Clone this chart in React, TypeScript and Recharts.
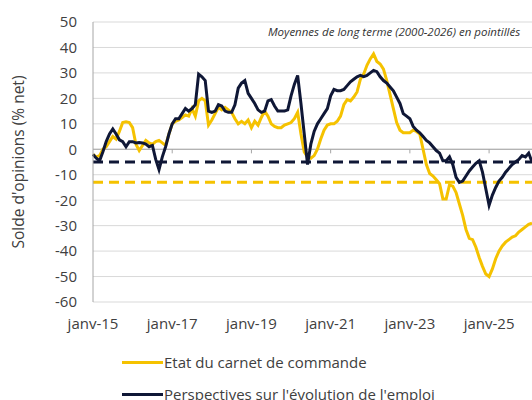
import React from 'react';
import { LineChart, Line, XAxis, YAxis, CartesianGrid, ReferenceLine } from 'recharts';

const MOIS = ['janv', 'févr', 'mars', 'avr', 'mai', 'juin', 'juil', 'août', 'sept', 'oct', 'nov', 'déc'];

// Etat du carnet de commande (janv-15 .. févr-26)
const carnet = [
  -2, -3, -2.5, 0, 1, 3, 5, 4, 7, 10.5, 10.8, 10.5, 8.5, 2, -0.5, 1.5, 3.5, 2.5, 2, 3, 3.5, 2.5, 1.5, 6,
  10, 11, 11.5, 12.5, 13.5, 13, 16, 13, 19, 20, 19, 9.5, 11.5, 14, 16.5, 15.5, 16.5, 15.5, 14.5, 12, 10, 11, 10, 11.5,
  8.5, 11, 9.5, 12.5, 15, 13, 10, 9, 8.5, 8.5, 9.5, 10, 10.5, 12, 14.5, 6, -1, -3, -3.5, -2.5, 0, 4, 7.5, 9.5,
  10, 10, 11, 13, 17.5, 19.5, 19, 20.5, 22.5, 27.5, 29.5, 33, 35.5, 37.5, 34.5, 33.5, 31.5, 27, 21.5, 16, 10.5, 7.5, 6.5, 6.5,
  6.5, 7.5, 7, 6, 0, -6, -9.5, -10.5, -12, -13.5, -19.5, -19.5, -14, -14.5, -17, -21.5, -26, -31.5, -35, -35.5, -38.5, -42.5, -46, -49,
  -50, -47, -43, -40, -38, -36.5, -35.5, -34.5, -34, -32.5, -31.5, -30.5, -29.5, -29,
];

// Perspectives sur l'évolution de l'emploi
const emploi = [
  -2, -3.5, -4.5, -1, 3, 6, 8, 6, 3.7, 3, 1, 3, 3, 2.5, 2.7, 2.5, 2, 1, 1.5, -4, -8, -3, 1, 6,
  10, 12, 12, 14, 16, 15, 16, 17.5, 29.5, 28.5, 27, 15, 14.5, 15, 17.5, 17, 15, 14.5, 14.5, 17.5, 24, 26, 27, 22,
  20, 18, 15.5, 14.5, 15, 19, 19.5, 17, 15, 15, 15, 15.5, 21, 25.5, 29, 18, 6, -6, 2, 7, 10, 12, 14, 16,
  21, 23.5, 23, 23, 23.5, 25, 26.5, 27.5, 28.5, 29, 28.5, 29, 30, 31, 30.5, 28.5, 27, 26, 24.5, 23, 20.5, 18, 14, 13,
  12, 9, 7.5, 6.5, 5, 3.5, 2.5, 1, -0.5, -1.5, -4.5, -4.5, -3, -6, -11, -13, -12.5, -10.5, -8.5, -7, -5.5, -4.5, -9, -15.5,
  -22, -18, -15, -12.5, -11, -9, -7.5, -6, -5, -4, -2.5, -3, -1.5, -5,
];

const moyenneCarnet = -13;
const moyenneEmploi = -5;

const tickLabels = ['janv-15', 'janv-17', 'janv-19', 'janv-21', 'janv-23', 'janv-25'];
const yTicks = [-60, -50, -40, -30, -20, -10, 0, 10, 20, 30, 40, 50];

const months = carnet.map((_, i) => `${MOIS[i % 12]}-${15 + Math.floor(i / 12)}`);
const data = months.map((m, i) => ({ mois: m, carnet: carnet[i], emploi: emploi[i] }));

const YELLOW = '#F5C200';
const NAVY = '#0F1736';
const TEXT = '#404040';

const legendItems = [
  { color: YELLOW, label: 'Etat du carnet de commande', top: 351 },
  { color: NAVY, label: "Perspectives sur l'évolution de l'emploi", top: 383 },
];

export default function App() {
  return (
    <div style={{ position: 'absolute', left: 0, top: 0, width: 532, height: 400, background: '#fff', fontFamily: "'Open Sans', sans-serif", overflow: 'hidden' }}>
      <LineChart width={532} height={400} data={data} margin={{ top: 22, right: 0, left: 0, bottom: 0 }}>
        <CartesianGrid vertical={false} stroke="#d9d9d9" strokeWidth={1} />
        <XAxis
          dataKey="mois"
          ticks={tickLabels}
          interval={0}
          axisLine={false}
          tickLine={false}
          height={98}
          tickMargin={10}
          tick={{ fontSize: 15, fill: TEXT }}
        />
        <YAxis
          domain={[-60, 50]}
          ticks={yTicks}
          interval={0}
          width={93}
          axisLine={{ stroke: '#a6a6a6' }}
          tickLine={false}
          tickMargin={10}
          tick={{ fontSize: 15, fill: TEXT }}
        />
        <ReferenceLine y={0} stroke="#a6a6a6" strokeWidth={1} />
        {tickLabels.slice(1).map((t) => (
          <ReferenceLine key={t} segment={[{ x: t, y: 0 }, { x: t, y: -1.6 }]} stroke="#a6a6a6" strokeWidth={1} />
        ))}
        <ReferenceLine y={moyenneEmploi} stroke={NAVY} strokeWidth={3} strokeDasharray="10 6" />
        <ReferenceLine y={moyenneCarnet} stroke={YELLOW} strokeWidth={3} strokeDasharray="10 6" />
        <Line type="linear" dataKey="carnet" stroke={YELLOW} strokeWidth={3} dot={false} isAnimationActive={false} />
        <Line type="linear" dataKey="emploi" stroke={NAVY} strokeWidth={3} dot={false} isAnimationActive={false} />
      </LineChart>
      {legendItems.map((it) => (
        <div key={it.label} style={{ position: 'absolute', left: 122, top: it.top, display: 'flex', alignItems: 'center', height: 22 }}>
          <div style={{ width: 41, height: 3, background: it.color }} />
          <span style={{ fontSize: 15, color: TEXT, marginLeft: 1, whiteSpace: 'nowrap' }}>{it.label}</span>
        </div>
      ))}
      <div style={{ position: 'absolute', left: 268, top: 24, fontSize: 11.5, fontStyle: 'italic', color: '#333', whiteSpace: 'nowrap' }}>
        Moyennes de long terme (2000-2026) en pointillés
      </div>
      <div style={{ position: 'absolute', left: 18, top: 162, transform: 'translate(-50%, -50%) rotate(-90deg)', fontSize: 15.5, color: TEXT, whiteSpace: 'nowrap' }}>
        Solde d'opinions (% net)
      </div>
    </div>
  );
}
